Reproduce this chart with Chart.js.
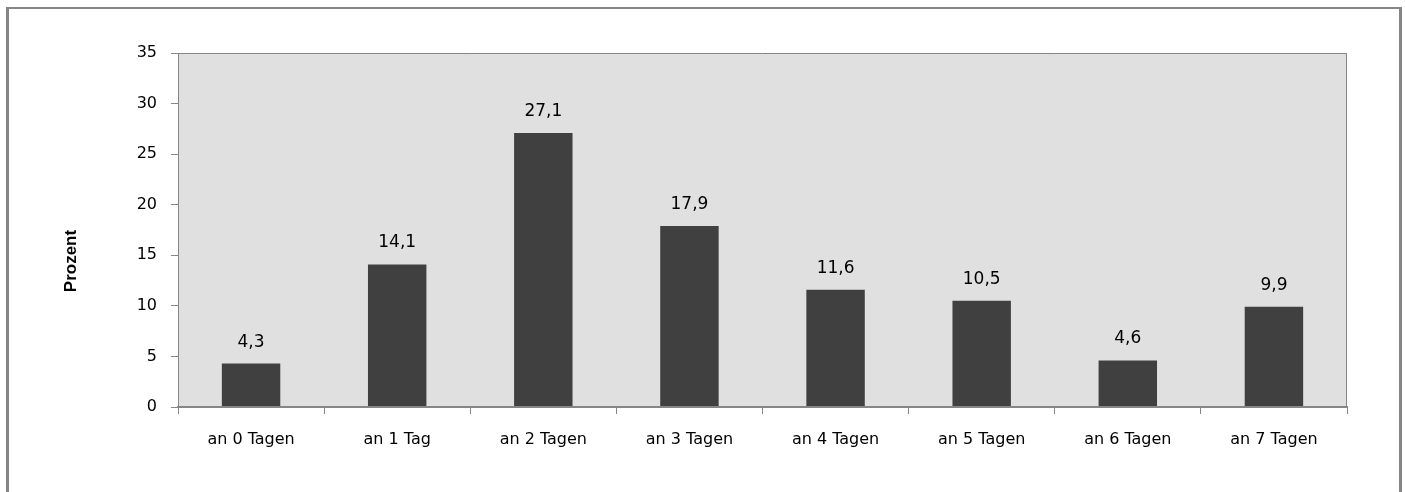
<!DOCTYPE html>
<html>
<head>
<meta charset="utf-8">
<title>Prozent nach Tagen</title>
<script src="https://cdn.jsdelivr.net/npm/chart.js@4.4.1/dist/chart.umd.min.js"></script>
<style>
  html, body { margin: 0; padding: 0; background: #ffffff; }
  #wrap { width: 1405px; height: 492px; position: relative; }
</style>
</head>
<body>
<div id="wrap"><canvas id="chart" width="1405" height="492"></canvas></div>
<script>
// Categories, values and axis ticks
const categories = ['an 0 Tagen', 'an 1 Tag', 'an 2 Tagen', 'an 3 Tagen', 'an 4 Tagen', 'an 5 Tagen', 'an 6 Tagen', 'an 7 Tagen'];
const percentValues = [4.3, 14.1, 27.1, 17.9, 11.6, 10.5, 4.6, 9.9];
const yTickValues = [0, 5, 10, 15, 20, 25, 30, 35];
const yAxisTitle = 'Prozent';

const AXIS_GREY = '#868686';
const PLOT_BG = '#e0e0e0';
const BAR_COLOR = '#404040';
const FONT = '"DejaVu Sans", sans-serif';

// Outer frame, plot background and plot-area border
const framePlugin = {
  id: 'frame',
  beforeDraw(chart) {
    const { ctx, chartArea: a, width, height } = chart;
    ctx.save();
    ctx.fillStyle = '#ffffff';
    ctx.fillRect(0, 0, width, height);
    ctx.fillStyle = AXIS_GREY;
    ctx.fillRect(6, 7, 1396, 2);      // top edge
    ctx.fillRect(6, 7, 3, height);    // left edge
    ctx.fillRect(1399, 7, 3, height); // right edge
    ctx.fillStyle = PLOT_BG;
    ctx.fillRect(a.left, a.top, a.right - a.left, a.bottom - a.top);
    ctx.restore();
  },
  afterDatasetsDraw(chart) {
    const { ctx, chartArea: a } = chart;
    ctx.save();
    ctx.strokeStyle = AXIS_GREY;
    ctx.lineWidth = 1;
    ctx.beginPath();
    ctx.moveTo(a.left, a.top + 0.5);
    ctx.lineTo(a.right, a.top + 0.5);
    ctx.moveTo(a.right - 0.5, a.top);
    ctx.lineTo(a.right - 0.5, a.bottom);
    ctx.stroke();
    ctx.lineWidth = 2;
    ctx.beginPath();
    ctx.moveTo(a.left, a.bottom);
    ctx.lineTo(a.right, a.bottom);
    ctx.stroke();
    ctx.restore();
  }
};

// Rotated y-axis title, placed a little below the plot's middle
const yTitlePlugin = {
  id: 'yTitle',
  afterDraw(chart) {
    const { ctx } = chart;
    ctx.save();
    ctx.translate(71, 261);
    ctx.rotate(-Math.PI / 2);
    ctx.font = 'bold 17px "Liberation Sans", Arial, sans-serif';
    ctx.fillStyle = '#000000';
    ctx.textAlign = 'center';
    ctx.textBaseline = 'middle';
    ctx.fillText(yAxisTitle, 0, 0);
    ctx.restore();
  }
};

// Value labels above each bar, with decimal comma
const valueLabelPlugin = {
  id: 'valueLabels',
  afterDatasetsDraw(chart) {
    const { ctx } = chart;
    const meta = chart.getDatasetMeta(0);
    const values = chart.data.datasets[0].data;
    ctx.save();
    ctx.font = '17px ' + FONT;
    ctx.fillStyle = '#000000';
    ctx.textAlign = 'center';
    ctx.textBaseline = 'alphabetic';
    meta.data.forEach((bar, i) => {
      const text = values[i].toFixed(1).replace('.', ',');
      ctx.fillText(text, bar.x, bar.y - 17);
    });
    ctx.restore();
  }
};

new Chart(document.getElementById('chart'), {
  type: 'bar',
  data: {
    labels: categories,
    datasets: [{
      data: percentValues,
      backgroundColor: BAR_COLOR,
      borderWidth: 0,
      barPercentage: 0.4,
      categoryPercentage: 1.0
    }]
  },
  options: {
    responsive: false,
    devicePixelRatio: 1,
    animation: false,
    layout: { padding: { left: 10, right: 58, top: 53, bottom: 30 } },
    plugins: {
      legend: { display: false },
      tooltip: { enabled: false }
    },
    scales: {
      x: {
        offset: true,
        grid: {
          offset: true,
          drawOnChartArea: false,
          drawTicks: true,
          tickLength: 7,
          color: AXIS_GREY
        },
        border: { display: true, color: AXIS_GREY, width: 2 },
        ticks: {
          color: '#000000',
          font: { family: FONT, size: 16 },
          padding: 16,
          maxRotation: 0,
          autoSkip: false
        },
        afterFit(scale) { scale.height = 55; }
      },
      y: {
        min: 0,
        max: 35,
        afterBuildTicks(scale) {
          scale.ticks = yTickValues.map(v => ({ value: v }));
        },
        grid: {
          drawOnChartArea: false,
          drawTicks: true,
          tickLength: 7,
          color: AXIS_GREY
        },
        border: { display: true, color: AXIS_GREY, width: 1 },
        ticks: {
          color: '#000000',
          font: { family: FONT, size: 16 },
          padding: 14
        },
        title: { display: false },
        afterFit(scale) { scale.width = 168; }
      }
    }
  },
  plugins: [framePlugin, valueLabelPlugin, yTitlePlugin]
});
</script>
</body>
</html>
